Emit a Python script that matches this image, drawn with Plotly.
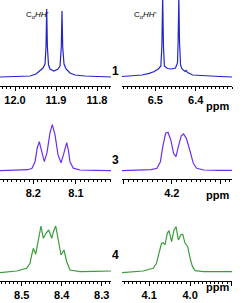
import plotly.graph_objects as go

W, H = 248, 303

# ---- data (ppm, relative intensity) ----
p1l_ppm = [12.0366, 11.9878, 11.9634, 11.9488, 11.9390, 11.9317, 11.9268, 11.9244, 11.9227,
           11.9210, 11.9183, 11.9146, 11.9049, 11.8951, 11.8902, 11.8871, 11.8854, 11.8837,
           11.8805, 11.8756, 11.8659, 11.8537, 11.8293, 11.7659]
p1l_int = [0, 0.5, 1, 3, 6, 9, 13, 30, 68, 30, 12, 8, 6, 8, 11, 30, 66, 30, 13, 8, 4, 2, 1, 0]

p1r_ppm = [6.5825, 6.5525, 6.5325, 6.515, 6.5025, 6.4925, 6.48625, 6.48375, 6.48175, 6.47975,
           6.4775, 6.47, 6.46, 6.45, 6.445, 6.4435, 6.44175, 6.44, 6.4375, 6.43375, 6.43,
           6.42625, 6.42375, 6.42, 6.4075, 6.39, 6.3725, 6.34, 6.31]
p1r_int = [0.5, 1, 2, 3.7, 5.5, 8, 11, 30, 80, 30, 11, 8.5, 8, 9, 14, 35, 80, 35, 12, 8, 7,
           5.5, 6.5, 4.5, 2, 1.5, 1, 0.5, 0]

p3l_ppm = [8.278, 8.2546, 8.2311, 8.2124, 8.203, 8.196, 8.1906, 8.1859, 8.1808, 8.1742, 8.1679,
           8.1609, 8.1555, 8.1492, 8.1422, 8.1351, 8.1293, 8.1218, 8.1176, 8.1141, 8.1063,
           8.0906, 8.0555, 8.018]
p3l_int = [0, 0.5, 0.3, 1, 2.5, 9, 23, 29, 20, 9, 18, 38, 46, 36, 16, 8, 16, 28, 20, 9, 2.5,
           0.7, 0.3, 0]

p3r_ppm = [4.3028, 4.2642, 4.2428, 4.2306, 4.2236, 4.2186, 4.2128, 4.2079, 4.2021, 4.1964,
           4.1914, 4.1865, 4.1807, 4.1758, 4.1700, 4.1630, 4.1557, 4.1486, 4.1343, 4.1036, 4.0758]
p3r_int = [0, 0.5, 1, 2.4, 9, 24, 37.4, 38.4, 30.7, 17.4, 14, 24, 34.7, 36.7, 32.4, 20.7, 7.4,
           2.4, 0.7, 0.3, 0.3]

p4l_ppm = [8.5543, 8.5125, 8.4875, 8.4793, 8.475, 8.471, 8.465, 8.4585, 8.4518, 8.446, 8.4393,
           8.4325, 8.425, 8.421, 8.415, 8.4085, 8.4018, 8.3943, 8.3875, 8.3793, 8.3543,
           8.3168, 8.2768]
p4l_int = [0, 1.7, 4.4, 9.4, 17.7, 24.4, 18.5, 32.7, 46.7, 34.4, 39.4, 42.7, 34.4, 40.7, 46.7,
           32.7, 17.7, 22.7, 11, 2.7, 1, 1.3, 1.7]

p4r_ppm = [4.1663, 4.1147, 4.0902, 4.0821, 4.0762, 4.0698, 4.0656, 4.0614, 4.0558, 4.0516,
           4.0452, 4.0393, 4.0344, 4.0287, 4.0231, 4.0182, 4.0123, 4.0059, 4.0, 3.9943,
           3.9877, 3.9673, 3.8978]
p4r_int = [0, 1.7, 4.4, 9.4, 19.4, 29.4, 30, 27.7, 39.4, 42, 31, 42.7, 46, 32.7, 37.7, 38.4,
           29.4, 26, 14.4, 6, 2, 1, 1]

labels = ["1", "3", "4"]
title_text = "C<sub>α</sub><i>HH'</i>"

# ---- layout geometry (pixels) ----
xdom = [(0, 111), (122, 232)]
rows = [  # (top px, axis px, y-range)
    (0, 86, [-9, 77]),
    (110, 179, [-8.3, 60.7]),
    (205, 281, [-8.3, 67.7]),
]
xranges = [
    ([12.0366, 11.7659], [12.0, 11.9, 11.8], ["12.0", "11.9", "11.8"]),
    ([6.5825, 6.31], [6.5, 6.4], ["6.5", "6.4"]),
    ([8.278, 8.018], [8.2, 8.1], ["8.2", "8.1"]),
    ([4.3028, 4.0758], [4.3, 4.2, 4.1], ["", "4.2", ""]),
    ([8.5543, 8.2768], [8.5, 8.4, 8.3], ["8.5", "8.4", "8.3"]),
    ([4.1663, 3.8978], [4.1, 4.0, 3.9], ["4.1", "4.0", ""]),
]
series = [(p1l_ppm, p1l_int), (p1r_ppm, p1r_int), (p3l_ppm, p3l_int),
          (p3r_ppm, p3r_int), (p4l_ppm, p4l_int), (p4r_ppm, p4r_int)]
colors = ["#2323cf", "#2323cf", "#6b30f2", "#6b30f2", "#3a9e3a", "#3a9e3a"]

fig = go.Figure()
font_fam = "Arial, Liberation Sans, sans-serif"

for i, (xs, ys) in enumerate(series):
    r, c = divmod(i, 2)
    top, axis_px, yr = rows[r]
    n = i + 1
    xa = "x" if n == 1 else f"x{n}"
    ya = "y" if n == 1 else f"y{n}"
    fig.add_trace(go.Scatter(x=xs, y=ys, mode="lines", xaxis=xa, yaxis=ya,
                             line=dict(color=colors[i], width=1.2), showlegend=False,
                             hoverinfo="skip"))
    rng, tv, tt = xranges[i]
    xk = "xaxis" if n == 1 else f"xaxis{n}"
    yk = "yaxis" if n == 1 else f"yaxis{n}"
    fig.layout[xk] = dict(
        domain=[xdom[c][0] / W, xdom[c][1] / W], range=rng, autorange=False,
        anchor=ya, showline=True, linecolor="black", linewidth=1, mirror=False,
        showgrid=False, zeroline=False, ticks="outside", ticklen=4, tickwidth=1,
        tickcolor="black", tickmode="array", tickvals=tv, ticktext=tt,
        tickfont=dict(family=font_fam, size=11, color="black", weight=700),
        minor=dict(tickmode="linear", tick0=0, dtick=0.01, ticks="outside",
                   ticklen=2, tickwidth=1, tickcolor="black", showgrid=False),
    )
    fig.layout[yk] = dict(
        domain=[1 - axis_px / H, 1 - top / H], range=yr, autorange=False,
        anchor=xa, visible=False,
    )

ann = []
# ppm labels
for py in (98, 195, 295):
    ann.append(dict(x=231 / W, y=1 - py / H, xref="paper", yref="paper", text="<b>ppm</b>",
                    showarrow=False, font=dict(family=font_fam, size=11, color="black")))
# compound labels
for lab, py in zip(labels, (62, 159.5, 263.5)):
    ann.append(dict(x=115 / W, y=1 - py / H, xref="paper", yref="paper", text=f"<b>{lab}</b>",
                    showarrow=False, font=dict(family=font_fam, size=12, color="black")))
# proton titles
for px in (24, 145):
    ann.append(dict(x=px / W, y=1 - 8 / H, xref="paper", yref="paper", text=title_text,
                    showarrow=False, font=dict(family=font_fam, size=8, color="black")))

fig.update_layout(
    width=W, height=H, margin=dict(l=0, r=0, t=0, b=0),
    paper_bgcolor="white", plot_bgcolor="white", annotations=ann,
)

fig.write_html("out.html", config={"displayModeBar": False},
               post_script="document.body.style.margin='0';")
